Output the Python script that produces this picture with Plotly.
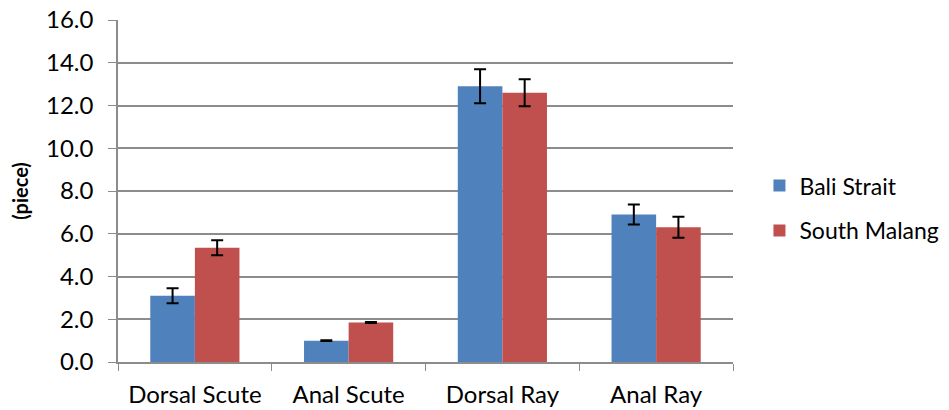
import plotly.graph_objects as go

categories = ["Dorsal Scute", "Anal Scute", "Dorsal Ray", "Anal Ray"]
bali_values = [3.1, 1.0, 12.9, 6.9]
bali_errors = [0.35, 0.02, 0.8, 0.47]
malang_values = [5.35, 1.85, 12.6, 6.3]
malang_errors = [0.35, 0.02, 0.63, 0.49]
y_ticks = [0, 2, 4, 6, 8, 10, 12, 14, 16]

FONT = "Lato, Open Sans, sans-serif"

fig = go.Figure()
fig.add_trace(go.Bar(
    name="Bali Strait", x=categories, y=bali_values,
    marker=dict(color="#4F81BD", line=dict(width=0)),
    error_y=dict(type="data", array=bali_errors, color="black", thickness=2, width=6),
    legendgroup="a",
))
fig.add_trace(go.Bar(
    name="South Malang", x=categories, y=malang_values,
    marker=dict(color="#C0504D", line=dict(width=0)),
    error_y=dict(type="data", array=malang_errors, color="black", thickness=2, width=6),
    legendgroup="b",
))

fig.update_layout(
    width=949, height=410,
    margin=dict(l=118, r=216, t=20, b=48, autoexpand=False),
    plot_bgcolor="white", paper_bgcolor="white",
    barmode="group", bargap=0.42, bargroupgap=0,
    font=dict(family=FONT, size=24, color="black"),
    legend=dict(x=1.043, y=0.45, xanchor="left", yanchor="middle",
                font=dict(size=23), tracegroupgap=12, traceorder="grouped",
                itemwidth=30),
    showlegend=True,
)
fig.update_yaxes(
    range=[0, 16], tickvals=y_ticks, tickformat=".1f", automargin=False,
    showgrid=True, gridcolor="#8C8C8C", gridwidth=1.5,
    showline=True, linecolor="#8C8C8C", linewidth=1.5,
    ticks="outside", ticklen=8, tickcolor="#8C8C8C", ticklabelstandoff=10,
    zeroline=False,
    title=dict(text="<b>(piece)</b>", font=dict(size=20), standoff=12),
)
fig.update_xaxes(
    showline=True, linecolor="#8C8C8C", linewidth=1.5, automargin=False,
    ticks="outside", ticklen=7, tickcolor="#8C8C8C", tickson="boundaries",
    showgrid=False, ticklabelstandoff=10,
)

fig.write_html("out.html", config={"displayModeBar": False},
               post_script="document.body.style.margin='0';")
